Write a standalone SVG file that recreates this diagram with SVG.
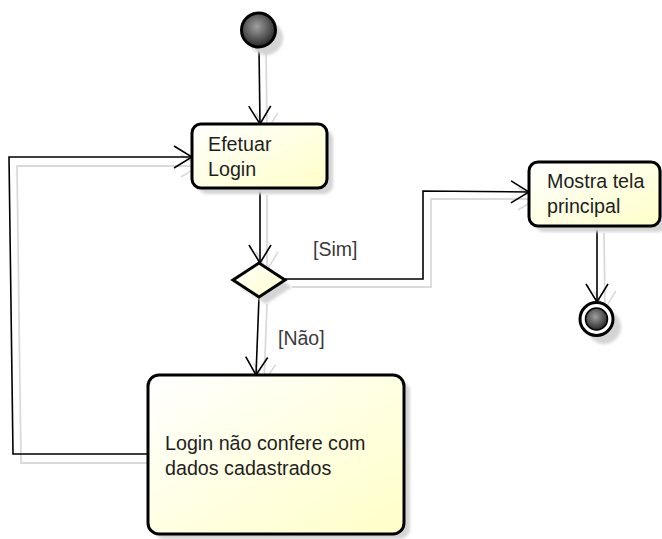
<svg xmlns="http://www.w3.org/2000/svg" width="662" height="539" viewBox="0 0 662 539">
  <defs>
    <linearGradient id="actFill" x1="0" y1="0" x2="1" y2="1">
      <stop offset="0" stop-color="#ffffff"/>
      <stop offset="1" stop-color="#ffffc8"/>
    </linearGradient>
    <radialGradient id="ballFill" cx="0.45" cy="0.4" r="0.65">
      <stop offset="0" stop-color="#a0a0a0"/>
      <stop offset="1" stop-color="#1e1e1e"/>
    </radialGradient>
    <filter id="soft" x="-20%" y="-20%" width="140%" height="140%">
      <feGaussianBlur stdDeviation="1.5"/>
    </filter>
    <marker id="arrow" viewBox="0 0 20 24" refX="19" refY="12" markerWidth="20" markerHeight="24" markerUnits="userSpaceOnUse" orient="auto">
      <path d="M1,1 L19,12 L1,23" fill="none" stroke="#000" stroke-width="1.6"/>
    </marker>
    <marker id="arrowShade" viewBox="0 0 20 24" refX="19" refY="12" markerWidth="20" markerHeight="24" markerUnits="userSpaceOnUse" orient="auto">
      <path d="M1,1 L19,12 L1,23" fill="none" stroke="#dadada" stroke-width="1.6"/>
    </marker>
  </defs>
  <style>
    .act { fill: url(#actFill); stroke: #000; stroke-width: 3; }
    .shade { fill: #d4d4d4; filter: url(#soft); }
    .edge { fill: none; stroke: #000; stroke-width: 1.6; marker-end: url(#arrow); }
    .edgeShade { fill: none; stroke: #dadada; stroke-width: 1.8; marker-end: url(#arrowShade); }
    .label { font-family: "Liberation Sans", Arial, sans-serif; font-size: 19.7px; fill: #1e1e1e; }
    .guard { font-family: "Liberation Sans", Arial, sans-serif; font-size: 19.5px; fill: #3a3a3a; }
  </style>

  <rect width="662" height="539" fill="#ffffff"/>

  <!-- connector shadows and connectors -->
  <g id="connectors">
    <path class="edgeShade" d="M266,47 L267,131"/>
    <path class="edgeShade" d="M267,195 L267,270"/>
    <path class="edgeShade" d="M267,304 L264,382"/>
    <path class="edgeShade" d="M155,463 L21,463 L17,166 L199,166"/>
    <path class="edgeShade" d="M292,287 L431,287 L431,199 L536,199"/>
    <path class="edgeShade" d="M604,233 L605,309"/>

    <path class="edge" d="M259,48 L260,124"/>
    <path class="edge" d="M260,188 L260,263"/>
    <path class="edge" d="M259,297 L256,375"/>
    <path class="edge" d="M148,454 L13,454 L9,157 L192,157"/>
    <path class="edge" d="M285,279 L423,279 L423,191 L529,192"/>
    <path class="edge" d="M597,226 L597,302"/>

    <text class="guard" x="313" y="256">[Sim]</text>
    <text class="guard" x="278" y="345">[Não]</text>
  </g>

  <!-- initial node -->
  <g id="start">
    <circle class="shade" cx="266" cy="38" r="17"/>
    <circle cx="258.5" cy="30" r="17" fill="url(#ballFill)" stroke="#000" stroke-width="3"/>
  </g>

  <!-- activity: Efetuar Login -->
  <g id="efetuar-login">
    <rect class="shade" x="198" y="130" width="135" height="64" rx="9"/>
    <rect class="act" x="192" y="124" width="135" height="64" rx="9"/>
    <text class="label" x="208" y="151">Efetuar</text>
    <text class="label" x="208" y="176">Login</text>
  </g>

  <!-- decision -->
  <g id="decision">
    <path class="shade" d="M240,287 L266,270 L292,287 L266,304 Z"/>
    <path d="M233,280 L259,263 L285,280 L259,297 Z" fill="url(#actFill)" stroke="#000" stroke-width="3" stroke-linejoin="miter"/>
  </g>

  <!-- activity: Mostra tela principal -->
  <g id="mostra-tela">
    <rect class="shade" x="535" y="168" width="132" height="64" rx="9"/>
    <rect class="act" x="529" y="162" width="131" height="64" rx="9"/>
    <text class="label" x="547" y="188">Mostra tela</text>
    <text class="label" x="547" y="213">principal</text>
  </g>

  <!-- activity: Login não confere -->
  <g id="login-nao-confere">
    <rect class="shade" x="154" y="381" width="256" height="158" rx="11"/>
    <rect class="act" x="148" y="375" width="256" height="159" rx="11"/>
    <text class="label" x="165" y="450">Login não confere com</text>
    <text class="label" x="165" y="475">dados cadastrados</text>
  </g>

  <!-- final node -->
  <g id="end">
    <circle class="shade" cx="604" cy="327" r="17"/>
    <circle cx="596.5" cy="319" r="16.5" fill="#ffffff" stroke="#000" stroke-width="3"/>
    <circle cx="596.5" cy="319" r="11" fill="url(#ballFill)" stroke="#000" stroke-width="1.5"/>
  </g>
</svg>
